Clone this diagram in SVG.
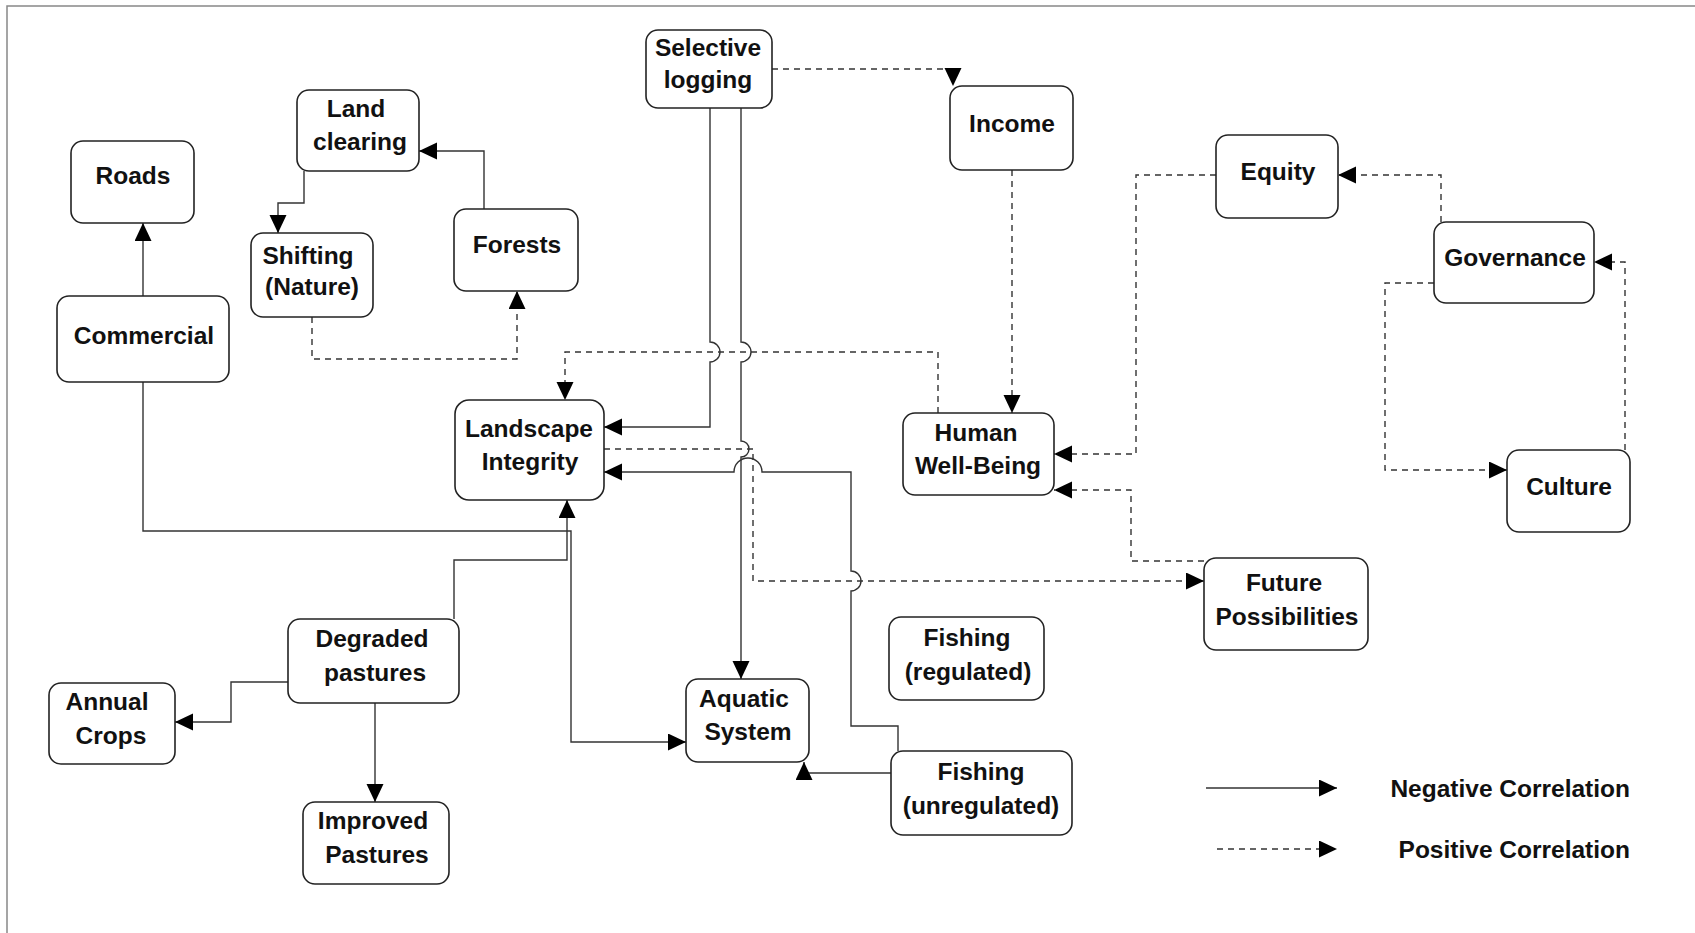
<svg xmlns="http://www.w3.org/2000/svg" width="1695" height="933" viewBox="0 0 1695 933">
<style>
.node rect{fill:#fff;stroke:#222;stroke-width:1.6}
.node text, .legend text{font-family:"Liberation Sans",Arial,sans-serif;font-weight:bold;font-size:24.5px;fill:#111;text-anchor:middle}
.c{fill:none;stroke:#333;stroke-width:1.4}
.d{stroke-dasharray:6 5}
.frame{stroke:#888;stroke-width:1.5;fill:none}
</style>
<defs>
<marker id="ah" markerUnits="userSpaceOnUse" markerWidth="19" markerHeight="18" refX="18" refY="8.5" orient="auto">
<path d="M0,0 L18,8.5 L0,17 z" fill="#000"/>
</marker>
</defs>
<rect width="1695" height="933" fill="#fff"/>
<path class="frame" d="M7,933 V6 H1695"/>

<g id="connectors">
<path class="c" d="M143,296 V223" marker-end="url(#ah)"/>
<path class="c" d="M304,171 V203 H278 V233" marker-end="url(#ah)"/>
<path class="c" d="M484,209 V151 H419" marker-end="url(#ah)"/>
<path class="c d" d="M312,317 V359 H517 V291" marker-end="url(#ah)"/>
<path class="c" d="M143,382 V531 H571 V742 H686" marker-end="url(#ah)"/>
<path class="c" d="M454,619 V560 H567 V500" marker-end="url(#ah)"/>
<path class="c d" d="M938,413 V352 H565 V400" marker-end="url(#ah)"/>
<path class="c" d="M710,108 V342 A10,10 0 0 1 710,362 V427 H604" marker-end="url(#ah)"/>
<path class="c" d="M741,108 V342 A10,10 0 0 1 741,362 V441 A8,8 0 0 1 741,457 V679" marker-end="url(#ah)"/>
<path class="c d" d="M604,449 H753 V581 H1204" marker-end="url(#ah)"/>
<path class="c" d="M898,751 V726 H851 V591 A10,10 0 0 0 851,571 V472 H762 A14,14 0 0 0 734,472 H604" marker-end="url(#ah)"/>
<path class="c" d="M891,773 H804 V762" marker-end="url(#ah)"/>
<path class="c d" d="M772,69 H953 V86" marker-end="url(#ah)"/>
<path class="c d" d="M1012,170 V413" marker-end="url(#ah)"/>
<path class="c d" d="M1216,175 H1136 V454 H1054" marker-end="url(#ah)"/>
<path class="c d" d="M1204,561 H1131 V490 H1054" marker-end="url(#ah)"/>
<path class="c d" d="M1441,222 V175 H1338" marker-end="url(#ah)"/>
<path class="c d" d="M1625,450 V262 H1594" marker-end="url(#ah)"/>
<path class="c d" d="M1434,283 H1385 V470 H1507" marker-end="url(#ah)"/>
<path class="c" d="M288,682 H231 V722 H175" marker-end="url(#ah)"/>
<path class="c" d="M375,703 V802" marker-end="url(#ah)"/>
</g>

<g id="selective-logging" class="node"><rect x="646" y="30" width="126" height="78" rx="12"/><text x="708" y="56">Selective</text><text x="708" y="88">logging</text></g>
<g id="land-clearing" class="node"><rect x="297" y="90" width="122" height="81" rx="12"/><text x="356" y="117">Land</text><text x="360" y="150">clearing</text></g>
<g id="roads" class="node"><rect x="71" y="141" width="123" height="82" rx="12"/><text x="133" y="184">Roads</text></g>
<g id="shifting" class="node"><rect x="251" y="233" width="122" height="84" rx="12"/><text x="308" y="264">Shifting</text><text x="312" y="295">(Nature)</text></g>
<g id="forests" class="node"><rect x="454" y="209" width="124" height="82" rx="12"/><text x="517" y="253">Forests</text></g>
<g id="commercial" class="node"><rect x="57" y="296" width="172" height="86" rx="12"/><text x="144" y="344">Commercial</text></g>
<g id="income" class="node"><rect x="950" y="86" width="123" height="84" rx="12"/><text x="1012" y="132">Income</text></g>
<g id="equity" class="node"><rect x="1216" y="135" width="122" height="83" rx="12"/><text x="1278" y="180">Equity</text></g>
<g id="governance" class="node"><rect x="1434" y="222" width="160" height="81" rx="12"/><text x="1515" y="266">Governance</text></g>
<g id="culture" class="node"><rect x="1507" y="450" width="123" height="82" rx="12"/><text x="1569" y="495">Culture</text></g>
<g id="landscape-integrity" class="node"><rect x="455" y="400" width="149" height="100" rx="14"/><text x="529" y="437">Landscape</text><text x="530" y="470">Integrity</text></g>
<g id="human-well-being" class="node"><rect x="903" y="413" width="151" height="82" rx="12"/><text x="976" y="441">Human</text><text x="978" y="474">Well-Being</text></g>
<g id="future-possibilities" class="node"><rect x="1204" y="558" width="164" height="92" rx="12"/><text x="1284" y="591">Future</text><text x="1287" y="625">Possibilities</text></g>
<g id="fishing-regulated" class="node"><rect x="889" y="617" width="155" height="83" rx="12"/><text x="967" y="646">Fishing</text><text x="968" y="680">(regulated)</text></g>
<g id="fishing-unregulated" class="node"><rect x="891" y="751" width="181" height="84" rx="12"/><text x="981" y="780">Fishing</text><text x="981" y="814">(unregulated)</text></g>
<g id="aquatic-system" class="node"><rect x="686" y="679" width="123" height="83" rx="12"/><text x="744" y="707">Aquatic</text><text x="748" y="740">System</text></g>
<g id="degraded-pastures" class="node"><rect x="288" y="619" width="171" height="84" rx="12"/><text x="372" y="647">Degraded</text><text x="375" y="681">pastures</text></g>
<g id="annual-crops" class="node"><rect x="49" y="683" width="126" height="81" rx="12"/><text x="107" y="710">Annual</text><text x="111" y="744">Crops</text></g>
<g id="improved-pastures" class="node"><rect x="303" y="802" width="146" height="82" rx="12"/><text x="373" y="829">Improved</text><text x="377" y="863">Pastures</text></g>

<g id="legend" class="legend">
<path class="c" d="M1206,788 H1337" marker-end="url(#ah)"/>
<path class="c d" d="M1217,849 H1337" marker-end="url(#ah)"/>
<text x="1630" y="797" style="text-anchor:end">Negative Correlation</text>
<text x="1630" y="858" style="text-anchor:end">Positive Correlation</text>
</g>
</svg>
